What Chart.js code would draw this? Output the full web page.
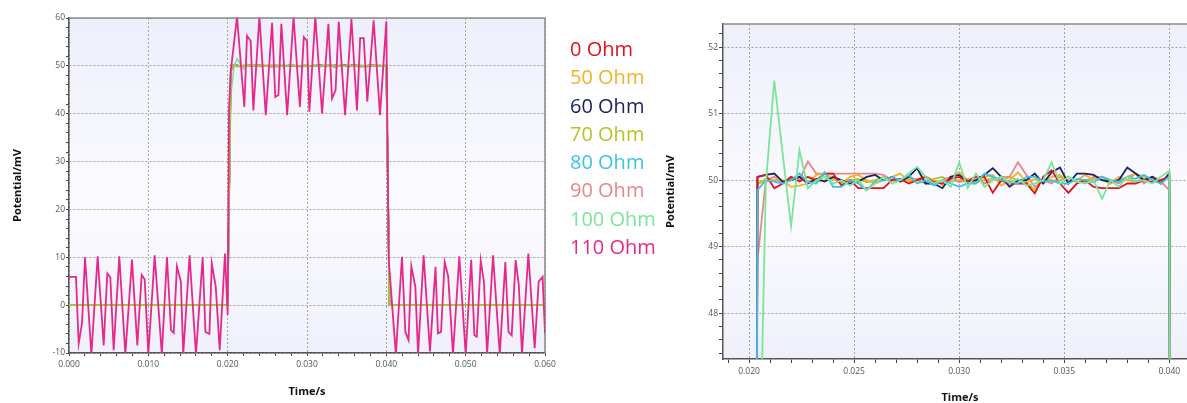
<!DOCTYPE html>
<html>
<head>
<meta charset="utf-8">
<script src="https://cdn.jsdelivr.net/npm/chart.js@4.4.1/dist/chart.umd.min.js"></script>
<style>
    html, body { margin: 0; padding: 0; background: #fff; width: 1187px; height: 403px; overflow: hidden; }
    canvas { position: absolute; top: 0; }
    #leftChart { left: 0; }
    #rightChart { left: 640px; }
    #legend {
        position: absolute; left: 570px; top: 35px; z-index: 2; white-space: nowrap;
        font-family: "Open Sans", sans-serif; font-size: 20px; line-height: 28.3px;
    }
</style>
</head>
<body>
<canvas id="leftChart" width="560" height="403"></canvas>
<canvas id="rightChart" width="600" height="403"></canvas>
<div id="legend"></div>
<script>
const seriesNames = ["0 Ohm", "50 Ohm", "60 Ohm", "70 Ohm", "80 Ohm", "90 Ohm", "100 Ohm", "110 Ohm"];
const seriesColors = ["#e3101e", "#f2b126", "#1a2268", "#b6c226", "#3cc2ea", "#e8878a", "#7ae598", "#e6288a"];
// drawing order of the 0..100 Ohm traces (lower = on top)
const leftOrder = [7, 3, 6, 1, 2, 4, 5];
const rightOrder = [2, 4, 3, 6, 1, 5, 0];

// time of the samples while the pulse is high (ms), shared by 0..100 Ohm
const highTimeMs = [20.4, 20.8, 21.2, 21.6, 22.0, 22.4, 22.8, 23.2, 23.6, 24.0,
    24.4, 24.8, 25.2, 25.6, 26.0, 26.4, 26.8, 27.2, 27.6, 28.0,
    28.4, 28.8, 29.2, 29.6, 30.0, 30.4, 30.8, 31.2, 31.6, 32.0,
    32.4, 32.8, 33.2, 33.6, 34.0, 34.4, 34.8, 35.2, 35.6, 36.0,
    36.4, 36.8, 37.2, 37.6, 38.0, 38.4, 38.8, 39.2, 39.6, 40.0];

const ohm0High = [50.05, 50.08, 49.88, 49.95, 50.05, 49.98, 50.05, 50.0, 50.1, 50.1,
    49.92, 50.0, 49.88, 49.88, 49.88, 49.88, 50.0, 50.02, 49.95, 50.0,
    50.05, 49.97, 49.95, 50.02, 50.05, 49.98, 50.05, 50.05, 49.81, 50.0,
    49.95, 49.95, 49.95, 49.8, 50.05, 50.15, 49.95, 49.81, 49.95, 50.0,
    49.9, 49.88, 49.88, 49.88, 49.95, 49.95, 50.0, 49.97, 50.0, 50.05];
const ohm50High = [49.95, 49.98, 50.0, 50.0, 49.9, 49.92, 49.95, 50.08, 50.1, 50.02,
    49.95, 50.05, 50.08, 50.0, 49.95, 50.0, 50.05, 50.1, 49.98, 50.02,
    50.05, 50.0, 49.93, 50.05, 50.12, 50.0, 49.95, 50.05, 50.08, 49.92,
    50.0, 50.12, 49.97, 50.02, 49.95, 50.05, 50.08, 49.98, 50.0, 50.08,
    50.0, 50.05, 49.95, 50.05, 50.0, 50.1, 50.05, 50.02, 49.95, 50.1];
const ohm60High = [50.05, 50.08, 50.1, 49.98, 50.0, 50.05, 49.95, 50.02, 49.98, 50.05,
    50.0, 49.95, 49.98, 50.05, 50.08, 50.0, 50.05, 49.98, 50.05, 50.18,
    49.95, 49.95, 49.88, 50.05, 50.08, 49.98, 50.0, 50.08, 50.18, 50.05,
    49.9, 50.0, 50.0, 50.1, 49.95, 50.12, 50.19, 49.95, 50.1, 50.1,
    50.08, 50.0, 49.98, 50.0, 50.19, 50.1, 50.0, 50.05, 49.95, 50.1];
const ohm70High = [49.95, 50.02, 50.0, 49.98, 50.02, 50.0, 50.05, 49.98, 50.0, 50.03,
    49.98, 50.0, 50.02, 49.97, 50.0, 50.05, 50.0, 49.98, 50.02, 50.0,
    49.95, 50.02, 50.05, 49.98, 50.0, 50.02, 49.97, 50.0, 50.03, 49.98,
    50.05, 50.0, 49.97, 49.85, 50.02, 49.98, 50.0, 50.05, 49.97, 50.0,
    50.02, 50.0, 49.95, 50.02, 50.0, 49.98, 50.02, 50.05, 50.0, 50.05];
const ohm80High = [49.85, 50.0, 49.98, 49.95, 50.0, 50.1, 49.97, 49.95, 50.12, 49.9,
    49.9, 50.0, 49.95, 49.85, 49.98, 50.0, 50.05, 50.0, 50.08, 49.95,
    50.0, 49.92, 50.0, 49.95, 49.9, 49.95, 49.95, 50.1, 50.05, 50.0,
    49.98, 49.95, 50.05, 50.05, 49.98, 50.0, 49.95, 49.95, 50.02, 50.0,
    49.97, 50.05, 50.0, 49.98, 50.05, 50.02, 50.08, 50.0, 49.95, 50.05];
const ohm90High = [48.8, 50.0, 50.05, 49.95, 50.05, 50.0, 50.28, 50.1, 50.1, 50.1,
    50.1, 50.1, 50.1, 50.1, 50.1, 50.08, 50.0, 49.98, 50.05, 50.0,
    50.05, 49.95, 50.0, 50.05, 49.97, 50.0, 50.05, 49.95, 50.0, 50.05,
    50.05, 50.27, 50.08, 49.9, 50.0, 49.95, 50.05, 50.0, 49.98, 49.97,
    50.05, 50.05, 50.0, 49.95, 50.05, 50.1, 49.95, 50.05, 49.98, 49.85];
const ohm100High = [44, 49.95, 51.5, 50.4, 49.31, 50.45, 49.88, 50.0, 50.05, 49.95,
    50.0, 49.92, 50.0, 49.85, 49.95, 50.05, 49.95, 50.0, 50.1, 50.2,
    50.05, 49.95, 50.0, 49.9, 50.27, 49.88, 50.1, 49.9, 50.0, 50.05,
    49.95, 50.02, 49.92, 49.95, 50.0, 50.27, 49.95, 50.05, 49.98, 49.95,
    50.0, 49.72, 50.0, 49.9, 50.05, 49.98, 50.0, 49.95, 50.05, 50.14];
const highValues = [ohm0High, ohm50High, ohm60High, ohm70High, ohm80High, ohm90High, ohm100High];

// flat 0 mV before and after the pulse
const lowBeforeMs = [0, 20.0];
const lowAfterMs = [40.4, 60.0];

// 110 Ohm trace
const pinkTimeMs = [0, 0.88, 1.22, 1.64, 2.02, 2.82, 3.61, 4.37, 4.83, 5.21,
    5.63, 6.34, 7.1, 7.94, 8.61, 9.16, 9.54, 10.0, 10.8, 11.7,
    12.35, 12.86, 13.2, 13.6, 14.1, 14.4, 15.2, 16.0, 16.85, 17.2,
    17.7, 18.0, 18.5, 19.0, 19.66, 20.0,
    20.17, 20.4, 21.18, 22.1, 22.44, 22.9, 23.24, 24.0, 24.8, 25.6,
    26.0, 26.4, 26.77, 27.5, 28.3, 29.1, 29.6, 30.0, 30.3, 31.05,
    31.9, 32.7, 33.15, 33.6, 34.0, 34.8, 35.6, 36.3, 36.7, 37.15,
    37.6, 38.4, 39.2, 40.0,
    40.3, 41.2, 41.97, 42.4, 42.8, 43.15, 43.66, 44.0, 44.7, 45.5,
    46.2, 46.5, 46.9, 47.35, 47.8, 48.4, 49.2, 50.0, 50.7, 51.1,
    51.4, 51.9, 52.3, 52.7, 53.45, 54.3, 55.0, 55.4, 55.8, 56.3,
    56.7, 57.1, 57.9, 58.7, 59.2, 59.7, 60.0];
const pinkValues = [5.9, 5.9, -8, -3.8, 10, -10.3, 10.2, -8.4, 6.6, 5.8,
    -9.4, 10.2, -10.3, 9.5, -8.4, 6.3, 5.4, -10.3, 10.4, -10.3,
    10, -5.2, -5.8, 8.1, 4.9, -10.3, 10.4, -10.3, 10, -5.6,
    -6, 8.7, 3.8, -9.4, 10.8, -2,
    41, 49, 60.3, 41.4, 56.3, 55.2, 40.7, 60.3, 39.7, 59,
    43.5, 43.9, 58.8, 39.7, 60.3, 41.4, 56, 55.2, 40.4, 60.3,
    40, 58.8, 43.2, 44.9, 59.2, 39.7, 59.8, 40.7, 55.8, 55.8,
    42.5, 59.5, 39.7, 59.3,
    9.5, -10.3, 10.1, -5.6, -7.3, 8.1, 3.8, -10.3, 10.4, -9.7,
    8, -5.9, -5.6, 9, 6, -10.3, 10.2, -10.3, 9.5, -6.3,
    -6.6, 9.3, 4.9, -10.3, 10.4, -10.3, 9, -5.6, -6.3, 9.4,
    4.2, -10.3, 10.8, -9, 4.9, 5.9, -5.9];

const tickFont = { family: "Open Sans", size: 8.5 };
const titleFont = { family: "Open Sans", size: 11, weight: "bold", lineHeight: 1 };

function toPoints(times, values) {
    return times.map((t, i) => ({ x: t, y: values[i] }));
}

function fullTrace(k) {
    return toPoints(lowBeforeMs.concat(highTimeMs, lowAfterMs), [0, 0].concat(highValues[k], [0, 0]));
}

function isMajor(v, major) {
    return Math.abs(v / major - Math.round(v / major)) < 1e-6;
}

function makeAxis(opts) {
    return {
        type: "linear",
        min: opts.min,
        max: opts.max,
        afterFit: opts.fit,
        ticks: {
            stepSize: opts.step, autoSkip: false, maxRotation: 0, includeBounds: false,
            padding: opts.pad, color: "#555", font: tickFont,
            callback: v => isMajor(v, opts.major) ? opts.label(v) : ""
        },
        grid: {
            color: c => isMajor(c.tick.value, opts.major) ? "#a4a4a4" : "rgba(0,0,0,0)",
            tickColor: "#444", tickLength: opts.tickLen, lineWidth: 1, tickWidth: 1
        },
        border: { color: "#555", width: 1.5, dash: [2, 2] },
        title: { display: true, text: opts.title, color: "#111", font: titleFont, padding: opts.titlePad }
    };
}

const plotFrame = {
    id: "plotFrame",
    beforeDraw(chart) {
        const { ctx, chartArea: a } = chart;
        const g = ctx.createLinearGradient(0, a.top, 0, a.bottom);
        g.addColorStop(0, "#edeffa");
        g.addColorStop(0.55, "#fbfbff");
        g.addColorStop(1, "#eff0fa");
        ctx.save();
        ctx.fillStyle = g;
        ctx.fillRect(a.left, a.top, a.right - a.left, a.bottom - a.top);
        ctx.restore();
    },
    beforeDatasetsDraw(chart) {
        const { ctx, chartArea: a } = chart;
        ctx.save();
        ctx.strokeStyle = "#8c8c8c";
        ctx.lineWidth = 1.5;
        ctx.beginPath();
        ctx.moveTo(a.left, a.top);
        ctx.lineTo(a.right, a.top);
        ctx.lineTo(a.right, a.bottom);
        ctx.stroke();
        ctx.restore();
    }
};

const commonOptions = {
    responsive: false,
    animation: false,
    plugins: { legend: { display: false }, tooltip: { enabled: false } },
    elements: { point: { radius: 0 }, line: { tension: 0 } }
};

// left: whole pulse, 110 Ohm on top
const leftSets = [{
    data: toPoints(pinkTimeMs, pinkValues), borderColor: seriesColors[7], borderWidth: 1.8, order: 0
}];
highValues.forEach((v, k) => {
    leftSets.push({ data: fullTrace(k), borderColor: seriesColors[k], borderWidth: 1.6, order: leftOrder[k] });
});

new Chart(document.getElementById("leftChart"), {
    type: "line",
    data: { datasets: leftSets },
    options: Object.assign({}, commonOptions, {
        layout: { padding: { left: 0, right: 15, top: 18, bottom: 0 } },
        scales: {
            x: makeAxis({
                min: 0, max: 60, step: 2, major: 10, pad: 3, tickLen: 3,
                label: v => (v / 1000).toFixed(3), title: "Time/s",
                titlePad: { top: 0, bottom: 5.5 }, fit: s => { s.height = 50; }
            }),
            y: makeAxis({
                min: -10, max: 60, step: 2, major: 10, pad: 1, tickLen: 3,
                label: v => String(v), title: "Potential/mV",
                titlePad: { top: 12.5, bottom: 0 }, fit: s => { s.width = 69; }
            })
        }
    }),
    plugins: [plotFrame]
});

// right: zoom on the top of the pulse (no 110 Ohm)
const rightSets = highValues.map((v, k) => ({
    data: fullTrace(k), borderColor: seriesColors[k], borderWidth: 1.8, order: rightOrder[k]
}));

new Chart(document.getElementById("rightChart"), {
    type: "line",
    data: { datasets: rightSets },
    options: Object.assign({}, commonOptions, {
        layout: { padding: { left: 0, right: 43, top: 24, bottom: 0 } },
        scales: {
            x: makeAxis({
                min: 18.76, max: 41.32, step: 1, major: 5, pad: 3, tickLen: 4,
                label: v => (v / 1000).toFixed(3), title: "Time/s",
                titlePad: { top: 0, bottom: 0 }, fit: s => { s.height = 44; }
            }),
            y: makeAxis({
                min: 47.31, max: 52.35, step: 0.2, major: 1, pad: 1, tickLen: 4,
                label: v => String(Math.round(v)), title: "Potential/mV",
                titlePad: { top: 25.5, bottom: 0 }, fit: s => { s.width = 83; }
            })
        }
    }),
    plugins: [plotFrame]
});

const legend = document.getElementById("legend");
seriesNames.forEach((name, i) => {
    const row = document.createElement("div");
    row.textContent = name;
    row.style.color = seriesColors[i];
    legend.appendChild(row);
});
</script>
</body>
</html>
